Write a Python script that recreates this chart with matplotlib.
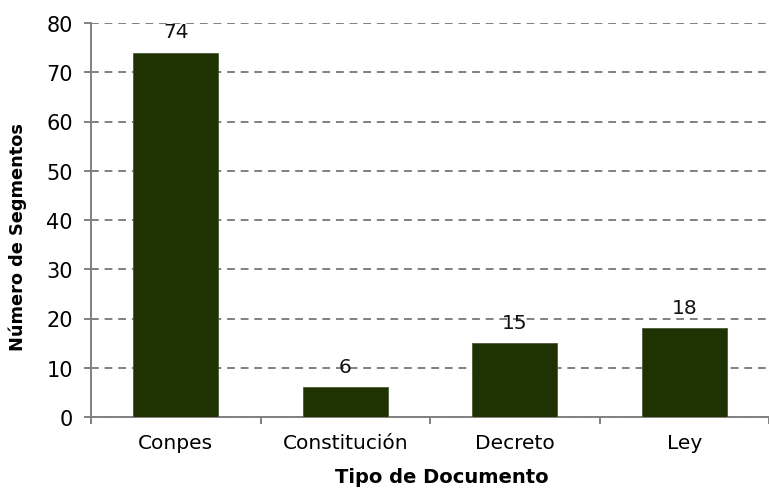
import matplotlib.pyplot as plt
import numpy as np

categories = ['Conpes', 'Constitución', 'Decreto', 'Ley']
counts = [74, 6, 15, 18]
y_ticks = [0, 10, 20, 30, 40, 50, 60, 70, 80]

bar_color = '#1e3202'
axis_color = '#808080'

fig = plt.figure(figsize=(7.69, 4.89), dpi=100)
ax = fig.add_axes([91 / 769, 71 / 489, 678 / 769, 394 / 489])

x = np.arange(len(categories))
ax.bar(x, counts, width=0.5, color=bar_color, edgecolor='#4a5a36', linewidth=0.6, zorder=3)

for xi, v in zip(x, counts):
    ax.annotate(str(v), (xi, v), xytext=(0, 8), textcoords='offset points',
                ha='center', va='bottom', fontsize=14.5, color='#111111', zorder=4)

ax.set_ylim(0, 80)
ax.set_xlim(-0.5, 3.5 - 8 / 171.5)
ax.set_yticks(y_ticks)
ax.set_xticks(x)
ax.set_xticklabels(categories)
ax.set_xticks(np.arange(-0.5, 4, 1.0), minor=True)

ax.yaxis.grid(True, linestyle=(0, (4, 3)), color=axis_color, linewidth=1.4, zorder=0)
ax.set_axisbelow(True)

for side in ['top', 'right']:
    ax.spines[side].set_visible(False)
for side in ['left', 'bottom']:
    ax.spines[side].set_color(axis_color)
    ax.spines[side].set_linewidth(1.4)

ax.tick_params(axis='y', length=5, width=1.4, color=axis_color, labelsize=15, pad=8)
ax.tick_params(axis='x', which='major', length=0, labelsize=14.5, pad=11.5)
ax.tick_params(axis='x', which='minor', length=5, width=1.4, color=axis_color)

ax.set_xlabel('Tipo de Documento', fontsize=14, fontweight='bold')
ax.xaxis.label.set_va('baseline')
ax.xaxis.set_label_coords(0.517, -0.166)
ax.set_ylabel('Número de Segmentos', fontsize=12.8, fontweight='bold')
ax.yaxis.set_label_coords(-0.094, 0.459)

fig.savefig('out.png', dpi=100)
